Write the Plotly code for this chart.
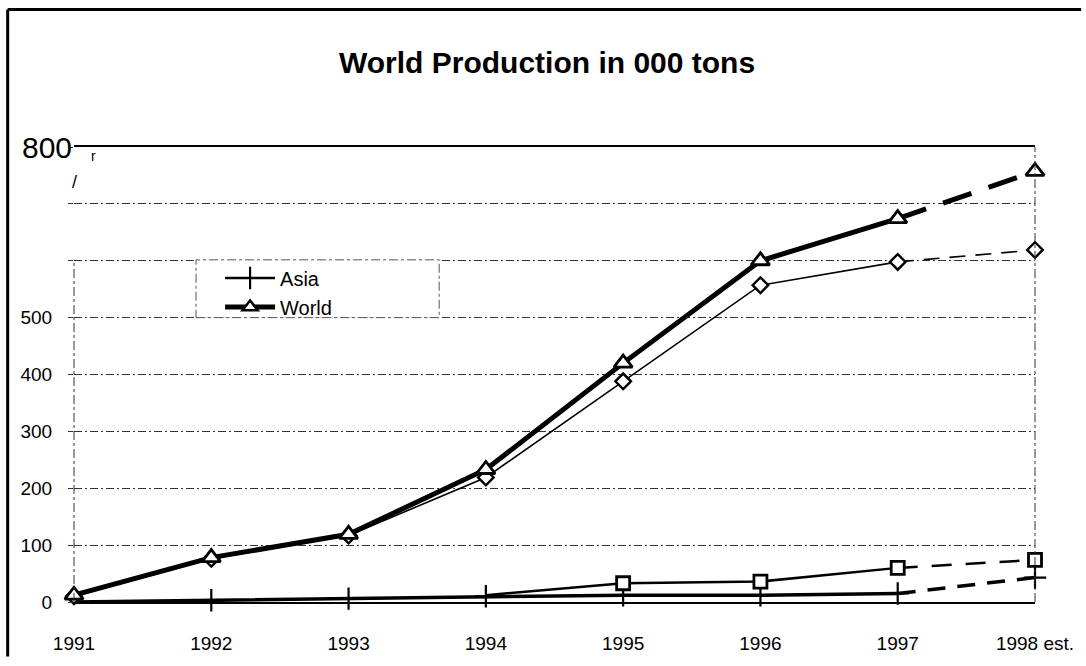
import plotly.graph_objects as go

# ---- data -------------------------------------------------------------
years = [1991, 1992, 1993, 1994, 1995, 1996, 1997, 1998]
year_labels = ["1991", "1992", "1993", "1994", "1995", "1996", "1997", "1998 est."]

world = [12, 78, 119, 233, 420, 600, 674, 757]
diamond_series = [10, 76, 117, 219, 388, 557, 598, 619]
square_series = [None, None, None, 12, 33, 36, 60, 74]
asia = [0, 3, 6, 10, 12, 12, 15, 43]

y_ticks = [0, 100, 200, 300, 400, 500, 600, 700, 800]
y_tick_text = ["0", "100", "200", "300", "400", "500", "", "", ""]

FONT = "Liberation Sans, Arial, sans-serif"

fig = go.Figure()


def add_series(values, width, symbol, msize, mline, dash, marker_from=0, mcolor="white"):
    # solid part up to 1997
    fig.add_trace(go.Scatter(
        x=years[:-1], y=values[:-1], mode="lines",
        line=dict(color="black", width=width),
        showlegend=False, hoverinfo="skip", cliponaxis=False))
    # dashed estimate 1997 -> 1998
    fig.add_trace(go.Scatter(
        x=years[-2:], y=values[-2:], mode="lines",
        line=dict(color="black", width=width, dash=dash),
        showlegend=False, hoverinfo="skip", cliponaxis=False))
    # point markers
    fig.add_trace(go.Scatter(
        x=years[marker_from:], y=values[marker_from:], mode="markers",
        marker=dict(symbol=symbol, size=msize, color=mcolor,
                    line=dict(color="black", width=mline)),
        showlegend=False, cliponaxis=False))


add_series(asia, 3.5, "cross-thin", 16, 2.2, "18px,12px", marker_from=1, mcolor="black")
add_series(square_series, 2.5, "square", 13, 2.8, "20px,14px", marker_from=4)
add_series(diamond_series, 1.6, "diamond", 12, 2.4, "16px,10px")
add_series(world, 5, "triangle-up", 16, 2.8, "30px,18px")

# legend entries
fig.add_trace(go.Scatter(
    x=[None], y=[None], mode="lines+markers", name="Asia",
    line=dict(color="black", width=2.5),
    marker=dict(symbol="cross-thin", size=16, color="black",
                line=dict(color="black", width=2.2))))
fig.add_trace(go.Scatter(
    x=[None], y=[None], mode="lines+markers", name="World",
    line=dict(color="black", width=5),
    marker=dict(symbol="triangle-up", size=13, color="white",
                line=dict(color="black", width=2.5))))

fig.update_layout(
    width=1086, height=666,
    margin=dict(l=74, r=46, t=147, b=55),
    paper_bgcolor="white", plot_bgcolor="white",
    font=dict(family=FONT, color="black"),
    showlegend=True,
    legend=dict(x=0.152, y=0.755, xanchor="left", yanchor="top",
                bgcolor="rgba(0,0,0,0)", borderwidth=0,
                font=dict(size=20, family=FONT), itemwidth=50,
                traceorder="normal"),
    xaxis=dict(range=[1991, 1998], tickvals=years, ticktext=year_labels,
               showgrid=False, zeroline=False, showline=True, mirror=True,
               linecolor="black", linewidth=1.5, ticks="",
               tickfont=dict(size=19, family=FONT), ticklabelstandoff=23),
    yaxis=dict(range=[0, 800], tickvals=y_ticks, ticktext=y_tick_text,
               showgrid=True, gridcolor="#333", gridwidth=1,
               griddash="8px,3px,2px,3px", zeroline=False, showline=False,
               ticks="outside", ticklen=5, tickcolor="#333",
               tickfont=dict(size=19, family=FONT), ticklabelstandoff=12),
    shapes=[
        # left and right dash-dot plot edges
        dict(type="line", xref="paper", yref="paper", x0=0, x1=0, y0=0, y1=0.752,
             line=dict(color="#333", width=1, dash="dashdot")),
        dict(type="line", xref="paper", yref="paper", x0=1, x1=1, y0=0, y1=1,
             line=dict(color="#333", width=1, dash="dashdot")),
        # legend box
        dict(type="rect", xref="paper", yref="paper", x0=0.127, x1=0.380,
             y0=0.625, y1=0.752, fillcolor="white", layer="above",
             line=dict(color="#555", width=1, dash="dashdot")),
        # outer frame
        dict(type="line", xref="paper", yref="paper", x0=-0.069, x1=1.048,
             y0=1.302, y1=1.302, line=dict(color="black", width=3)),
        dict(type="line", xref="paper", yref="paper", x0=-0.069, x1=-0.069,
             y0=-0.12, y1=1.302, line=dict(color="black", width=3)),
    ],
    annotations=[
        dict(text="<b>World Production in 000 tons</b>", xref="paper", yref="paper",
             x=0.492, y=1.185, xanchor="center", yanchor="middle", showarrow=False,
             font=dict(size=30, family=FONT)),
        dict(text="800", xref="paper", yref="y", x=0, y=800, xanchor="right",
             yanchor="middle", showarrow=False, font=dict(size=30, family=FONT)),
        dict(text="r", xref="paper", yref="paper", x=0.0207, y=0.98, xanchor="center",
             yanchor="middle", showarrow=False, font=dict(size=14, family=FONT)),
        dict(text="/", xref="paper", yref="paper", x=0.001, y=0.922, xanchor="center",
             yanchor="middle", showarrow=False, font=dict(size=18, family=FONT)),
    ],
)

fig.write_html("out.html")
